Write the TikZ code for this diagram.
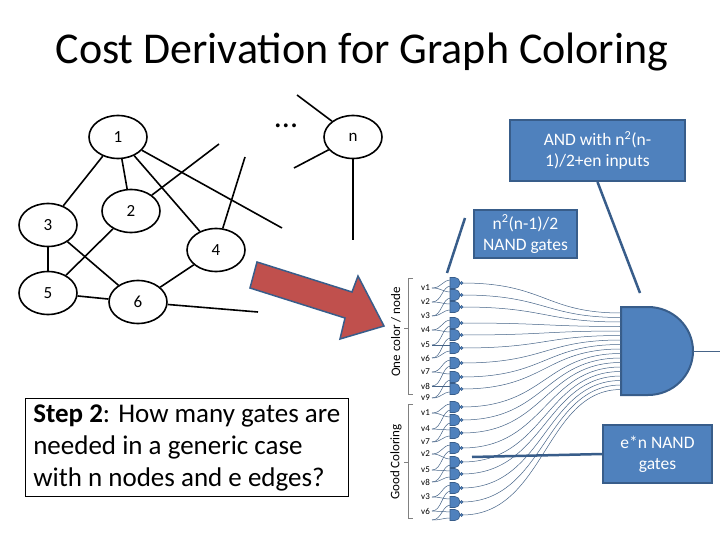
\documentclass[tikz,border=0pt]{standalone}
\usepackage{fontspec}
\setmainfont{Carlito}
\usetikzlibrary{shapes.geometric}
\definecolor{bfill}{RGB}{79,129,189}
\definecolor{bdraw}{RGB}{56,93,138}
\definecolor{rfill}{RGB}{192,80,77}
\begin{document}
\begin{tikzpicture}[x=1pt,y=-1pt,
  vert/.style={ellipse,draw,line width=1.6pt,minimum width=58pt,minimum height=43pt,inner sep=0pt,font=\fontsize{17}{19}\selectfont},
  edge/.style={line width=1.6pt},
  callout/.style={draw=bdraw,line width=2pt,fill=bfill,text=white,align=center,font=\fontsize{17.5}{21}\selectfont},
  pointer/.style={draw=bdraw,line width=2.5pt},
  wire/.style={draw=bdraw!80!gray,line width=0.5pt},
  vlab/.style={font=\fontsize{9}{10}\selectfont,inner sep=0pt,anchor=west}]
\useasboundingbox (0,0) rectangle (720,540);
\fill[white] (0,0) rectangle (720,540);
\node[font=\fontsize{44}{50}\selectfont] (title) at (362,52) {Cost Derivation for Graph Coloring};
% graph
\node[vert] (n1) at (118,137) {1};
\node[vert] (n2) at (131,211) {2};
\node[vert] (n3) at (48,225) {3};
\node[vert] (n4) at (216,250) {4};
\node[vert] (n5) at (48,293) {5};
\node[vert] (n6) at (138,302) {6};
\node[vert] (nn) at (353,137) {n};
\node[font=\fontsize{32}{34}\selectfont] (dots) at (286,126) {...};
\coordinate (f1) at (282,228);
\coordinate (f2) at (219,144);
\coordinate (f4) at (245,157);
\coordinate (f6) at (258,312);
\coordinate (fa) at (297,95);
\coordinate (fb) at (294,168);
\coordinate (fc) at (353,240);
\draw[edge] (n1) -- (n3);
\draw[edge] (n1) -- (n2);
\draw[edge] (n1) -- (n4);
\draw[edge] (n1) -- (f1);
\draw[edge] (n2) -- (f2);
\draw[edge] (n4) -- (f4);
\draw[edge] (n2) -- (n5);
\draw[edge] (n3) -- (n5);
\draw[edge] (n3) -- (n6);
\draw[edge] (n5) -- (n6);
\draw[edge] (n6) -- (n4);
\draw[edge] (n6) -- (f6);
\draw[edge] (nn) -- (fa);
\draw[edge] (nn) -- (fb);
\draw[edge] (nn) -- (fc);
% red arrow
\draw[fill=rfill,draw=bdraw,line width=1.5pt] (250,288) -- (257,262) -- (352,292) -- (358,276) -- (384,326) -- (340,339) -- (345,318) -- cycle;
% step text
\node[draw,line width=0.6pt,align=left,inner ysep=6pt,inner xsep=8pt,anchor=north west,font=\fontsize{27}{32}\selectfont] (step) at (25,398) {\textbf{Step 2}: How many gates are\\needed in a generic case\\with n nodes and e edges?};
% braces
\draw[gray,line width=0.6pt] (413,278) -- (408,278) -- (408,394) -- (413,394) (408,328) -- (404,328);
\draw[gray,line width=0.6pt] (413,404) -- (408,404) -- (408,518) -- (413,518) (408,462) -- (404,462);
\node[rotate=90,font=\fontsize{13}{14}\selectfont] (lab1) at (396,332) {One color / node};
\node[rotate=90,font=\fontsize{13}{14}\selectfont] (lab2) at (396,462) {Good Coloring};
% labels
\foreach \t/\yy [count=\i] in {v1/288,v2/302,v3/316,v4/330,v5/345,v6/358,v7/372,v8/386,v9/398,v1/413,v4/429,v7/442,v2/454,v5/470,v8/482,v3/497,v6/511}
  \node[vlab] (L\i) at (421,\yy) {\t};
% input wires
\foreach \a/\b/\c/\ga/\gb/\gc in {288/302/316/283/295/307,330/345/358/323/335/348,372/386/398/363/377/389,413/429/442/407/420/433,454/470/482/448/462/474,497/511/520/488/502/515}{
  \draw[wire] (432,\a) .. controls (442,\a) and (442,\ga-3) .. (451,\ga-3);
  \draw[wire] (432,\b) .. controls (442,\b) and (442,\ga+3) .. (451,\ga+3);
  \draw[wire] (432,\a) .. controls (442,\a) and (442,\gb-3) .. (451,\gb-3);
  \draw[wire] (432,\c) .. controls (442,\c) and (442,\gb+3) .. (451,\gb+3);
  \draw[wire] (432,\b) .. controls (442,\b) and (442,\gc-3) .. (451,\gc-3);
  \draw[wire] (432,\c) .. controls (442,\c) and (442,\gc+3) .. (451,\gc+3);
}
% big AND gate
\draw[fill=bfill,draw=bdraw,line width=2pt] (621,307) -- (648,307) arc[start angle=-90,end angle=90,x radius=45,y radius=44] -- (621,395) -- cycle;
\coordinate (out) at (720,351);
\draw[wire] (693,351) -- (out);
% NAND gates and output wires
\foreach \gy [count=\k] in {283,295,307,323,335,348,363,377,389,407,420,433,448,462,474,488,502,515}{
  \pgfmathsetmacro{\iy}{313+(\k-1)*4.5}
  \draw[wire] (462,\gy) .. controls (545,\gy) and (545,\iy) .. (621,\iy);
  \draw[fill=bfill,draw=bdraw,line width=0.6pt] (450,\gy-5.5) -- (455,\gy-5.5) arc[start angle=-90,end angle=90,x radius=5,y radius=5.5] -- (450,\gy+5.5) -- cycle;
  \draw[fill=bfill,draw=bdraw,line width=0.5pt] (461.5,\gy) circle (1.6);
}
% callouts
\node[callout,minimum width=175pt,minimum height=61pt] (c1) at (597.5,150.5) {AND with n\textsuperscript{2}(n-\\1)/2+en inputs};
\node[callout,minimum width=103pt,minimum height=48pt] (c2) at (525.5,234) {n\textsuperscript{2}(n-1)/2\\NAND gates};
\node[callout,minimum width=109pt,minimum height=58pt] (c3) at (657.5,454) {e*n NAND\\gates};
\coordinate (p1) at (640,293);
\coordinate (p2) at (447,273);
\coordinate (p2s) at (465,218);
\coordinate (p3) at (472,457);
\draw[pointer] (c1.south) -- (p1);
\draw[pointer] (p2s) -- (p2);
\draw[pointer] (c3.west) -- (p3);
\end{tikzpicture}
\end{document}
